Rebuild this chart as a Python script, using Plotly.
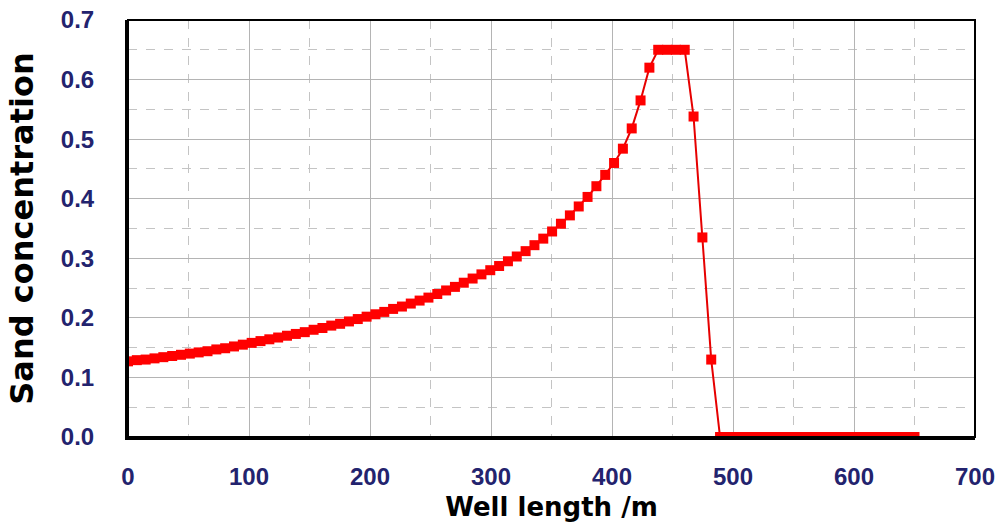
import plotly.graph_objects as go

well_length = [
    0.0, 7.3, 14.6, 21.9, 29.2, 36.5, 43.8, 51.1, 58.4, 65.7,
    73.0, 80.3, 87.6, 94.9, 102.2, 109.5, 116.8, 124.1, 131.4, 138.7,
    146.1, 153.4, 160.7, 168.0, 175.3, 182.6, 189.9, 197.2, 204.5, 211.8,
    219.1, 226.4, 233.7, 241.0, 248.3, 255.6, 262.9, 270.2, 277.5, 284.8,
    292.1, 299.4, 306.7, 314.0, 321.3, 328.6, 335.9, 343.2, 350.5, 357.8,
    365.2, 372.5, 379.8, 387.1, 394.4, 401.7, 409.0, 416.3, 423.6, 430.9,
    438.2, 445.5, 452.8, 460.1, 467.4, 474.7, 482.0, 489.3, 496.6, 503.9,
    511.2, 518.5, 525.8, 533.1, 540.4, 547.8, 555.1, 562.4, 569.7, 577.0,
    584.3, 591.6, 598.9, 606.2, 613.5, 620.8, 628.1, 635.4, 642.7, 650.0,
]
sand_conc = [
    0.127, 0.129, 0.130, 0.132, 0.134, 0.136, 0.138, 0.140, 0.142, 0.144,
    0.147, 0.149, 0.152, 0.155, 0.158, 0.161, 0.164, 0.167, 0.170, 0.173,
    0.176, 0.180, 0.183, 0.187, 0.190, 0.194, 0.198, 0.202, 0.206, 0.210,
    0.215, 0.219, 0.224, 0.229, 0.234, 0.240, 0.246, 0.252, 0.259, 0.266,
    0.273, 0.280, 0.287, 0.295, 0.303, 0.312, 0.322, 0.333, 0.345, 0.358,
    0.372, 0.387, 0.403, 0.421, 0.440, 0.460, 0.484, 0.518, 0.565, 0.620,
    0.650, 0.650, 0.650, 0.650, 0.538, 0.335, 0.130, 0.0, 0.0, 0.0,
    0.0, 0.0, 0.0, 0.0, 0.0, 0.0, 0.0, 0.0, 0.0, 0.0,
    0.0, 0.0, 0.0, 0.0, 0.0, 0.0, 0.0, 0.0, 0.0, 0.0,
]

x_ticks = [0, 100, 200, 300, 400, 500, 600, 700]
y_ticks = [0.0, 0.1, 0.2, 0.3, 0.4, 0.5, 0.6, 0.7]

tick_font = dict(family="Liberation Sans, Arial", size=24, color="#23236e", weight="bold")

fig = go.Figure()
fig.add_trace(go.Scatter(
    x=well_length, y=sand_conc, mode="lines+markers",
    line=dict(color="#e60000", width=2),
    marker=dict(symbol="square", size=10, color="#ff0000"),
    showlegend=False,
))

grid_major = "#b4b4b4"
grid_minor = "#c4c4c4"

fig.update_xaxes(
    range=[0, 700], tickvals=x_ticks, ticktext=[str(v) for v in x_ticks],
    tickfont=tick_font, showgrid=True, gridcolor=grid_major, gridwidth=1,
    minor=dict(dtick=50, tick0=0, showgrid=True, gridcolor=grid_minor, griddash="dash", gridwidth=1),
    showline=True, linecolor="#000000", linewidth=3, zeroline=False,
    ticks="", ticklabelstandoff=16, automargin=False,
    title=dict(text="<b>Well length /m</b>",
               font=dict(family="DejaVu Sans", size=26, color="#000000"), standoff=10),
)
fig.update_yaxes(
    range=[0, 0.7], tickvals=y_ticks, ticktext=[f"{v:.1f}" for v in y_ticks],
    tickfont=tick_font, showgrid=True, gridcolor=grid_major, gridwidth=1,
    minor=dict(dtick=0.05, tick0=0, showgrid=True, gridcolor=grid_minor, griddash="dash", gridwidth=1),
    showline=True, linecolor="#000000", linewidth=3, zeroline=False,
    ticks="", ticklabelstandoff=26, automargin=False,
    title=dict(text="<b>Sand concentration</b>",
               font=dict(family="DejaVu Sans", size=32, color="#000000"), standoff=18),
)

fig.add_shape(type="rect", xref="paper", yref="paper", x0=0, y0=0, x1=1, y1=1,
              line=dict(color="#000000", width=2), layer="above")

fig.update_layout(
    width=1003, height=525,
    margin=dict(l=128, r=28, t=20, b=88, autoexpand=False),
    plot_bgcolor="#ffffff", paper_bgcolor="#ffffff",
    font=dict(family="DejaVu Sans"),
)

fig.write_html("out.html")
